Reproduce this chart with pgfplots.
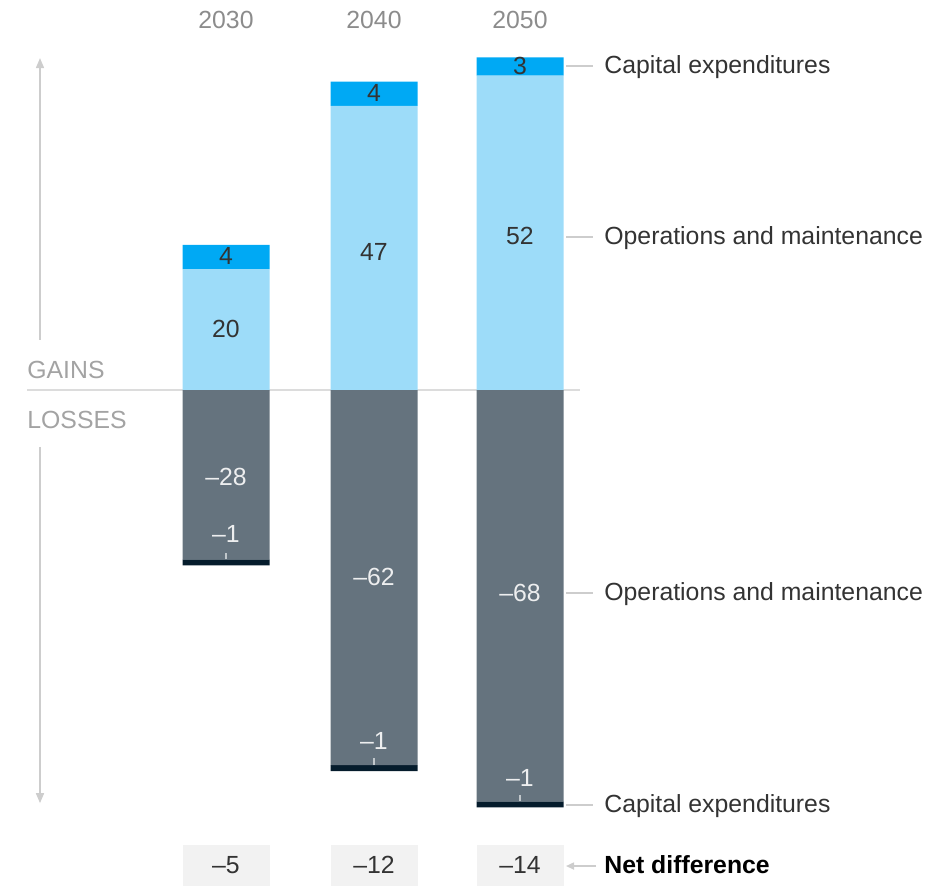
\documentclass[border=0pt]{standalone}
\usepackage{fontspec}
\setmainfont{Liberation Sans}
\usepackage{pgfplots}
\pgfplotsset{compat=1.18}
\usepackage{pgfplotstable}
\usetikzlibrary{arrows.meta}

\definecolor{capgain}{RGB}{0,169,244}
\definecolor{omgain}{RGB}{157,220,249}
\definecolor{omloss}{RGB}{101,115,126}
\definecolor{caploss}{RGB}{5,28,44}
\definecolor{guide}{RGB}{205,205,205}
\definecolor{labelgray}{RGB}{51,51,51}
\definecolor{yeargray}{RGB}{140,140,140}
\definecolor{netbox}{RGB}{242,242,242}

% gains and losses, $ bn
\pgfplotstableread{
x   om   cap
226 20   4
374 47   4
520 52   3
}\gains
\pgfplotstableread{
x   om   cap
226 -28  -1
374 -62  -1
520 -68  -1
}\losses

\pgfplotsset{
  frame/.style={
    scale only axis, width=475pt, height=443pt,
    xmin=0, xmax=950, ymin=-82, ymax=64.5,
    hide axis, clip=false,
    ybar stacked, bar width=87,
  },
}
\newcommand{\mn}{\textendash}

\begin{document}
\begin{tikzpicture}[font=\fontsize{12.4}{14}\selectfont,
  lbl/.style={inner sep=0pt, text height=0.716em, text depth=0pt},
  inlbl/.style={lbl, text=white!88!omloss},
  lead/.style={draw=guide, line width=0.8pt},
  smalltick/.style={draw=white!60!omloss, line width=0.6pt}]

% background: zero line, arrows, net boxes
\begin{axis}[frame]
  \path (rel axis cs:0,0) rectangle (rel axis cs:1,1);
  \draw[guide!70, line width=1pt] (axis cs:27,0) -- (axis cs:580,0);
  \draw[guide, line width=0.8pt, -{Triangle[length=5pt,width=4pt]}]
    (axis cs:40,8.3) -- (axis cs:40,54.9);
  \draw[guide, line width=0.8pt, -{Triangle[length=5pt,width=4pt]}]
    (axis cs:40,-9.4) -- (axis cs:40,-68.3);
  \node[lbl, anchor=west, text=yeargray!80] at (axis cs:27,3.1) {GAINS};
  \node[lbl, anchor=west, text=yeargray!80] at (axis cs:27,-5.1) {LOSSES};
  \fill[netbox] (axis cs:182.5,-75.2) rectangle (axis cs:269.5,-82);
  \fill[netbox] (axis cs:330.5,-75.2) rectangle (axis cs:417.5,-82);
  \fill[netbox] (axis cs:476.5,-75.2) rectangle (axis cs:563.5,-82);
\end{axis}

% gains
\begin{axis}[frame]
  \addplot[fill=omgain, draw=none] table[x=x, y=om] {\gains};
  \addplot[fill=capgain, draw=none] table[x=x, y=cap] {\gains};
\end{axis}

% losses
\begin{axis}[frame]
  \addplot[fill=omloss, draw=none] table[x=x, y=om] {\losses};
  \addplot[fill=caploss, draw=none] table[x=x, y=cap] {\losses};
\end{axis}

% labels
\begin{axis}[frame]
  % years
  \node[lbl, text=yeargray] at (axis cs:226,60.9) {2030};
  \node[lbl, text=yeargray] at (axis cs:374,60.9) {2040};
  \node[lbl, text=yeargray] at (axis cs:520,60.9) {2050};

  % gain values
  \node[lbl, text=labelgray] at (axis cs:226,22)   {4};
  \node[lbl, text=labelgray] at (axis cs:374,48.9) {4};
  \node[lbl, text=labelgray] at (axis cs:520,53.4) {3};
  \node[lbl, text=labelgray] at (axis cs:226,9.8)  {20};
  \node[lbl, text=labelgray] at (axis cs:374,22.6) {47};
  \node[lbl, text=labelgray] at (axis cs:520,25.3) {52};

  % loss values
  \node[inlbl] at (axis cs:226,-14.6) {\mn28};
  \node[inlbl] at (axis cs:374,-31.1) {\mn62};
  \node[inlbl] at (axis cs:520,-33.7) {\mn68};
  \node[inlbl] at (axis cs:226,-24.1) {\mn1};
  \node[inlbl] at (axis cs:374,-58.2) {\mn1};
  \node[inlbl] at (axis cs:520,-64.3) {\mn1};
  \draw[smalltick] (axis cs:226,-28) -- (axis cs:226,-26.9);
  \draw[smalltick] (axis cs:374,-62) -- (axis cs:374,-60.9);
  \draw[smalltick] (axis cs:520,-68) -- (axis cs:520,-66.9);

  % net difference
  \node[lbl, text=labelgray] at (axis cs:226,-78.7) {\mn5};
  \node[lbl, text=labelgray] at (axis cs:374,-78.7) {\mn12};
  \node[lbl, text=labelgray] at (axis cs:520,-78.7) {\mn14};

  % right-hand labels
  \draw[lead] (axis cs:566,53.6) -- (axis cs:593,53.6);
  \node[lbl, anchor=west, text=labelgray] at (axis cs:604,53.6) {Capital expenditures};
  \draw[lead] (axis cs:566,25.3) -- (axis cs:593,25.3);
  \node[lbl, anchor=west, text=labelgray] at (axis cs:604,25.3) {Operations and maintenance};
  \draw[lead] (axis cs:566,-33.6) -- (axis cs:593,-33.6);
  \node[lbl, anchor=west, text=labelgray] at (axis cs:604,-33.6) {Operations and maintenance};
  \draw[lead] (axis cs:566,-68.6) -- (axis cs:593,-68.6);
  \node[lbl, anchor=west, text=labelgray] at (axis cs:604,-68.6) {Capital expenditures};
  \draw[lead, -{Triangle[length=4pt,width=3.5pt]}] (axis cs:596,-78.7) -- (axis cs:566,-78.7);
  \node[lbl, anchor=west, text=black] at (axis cs:604,-78.7) {\bfseries Net difference};
\end{axis}
\end{tikzpicture}
\end{document}
